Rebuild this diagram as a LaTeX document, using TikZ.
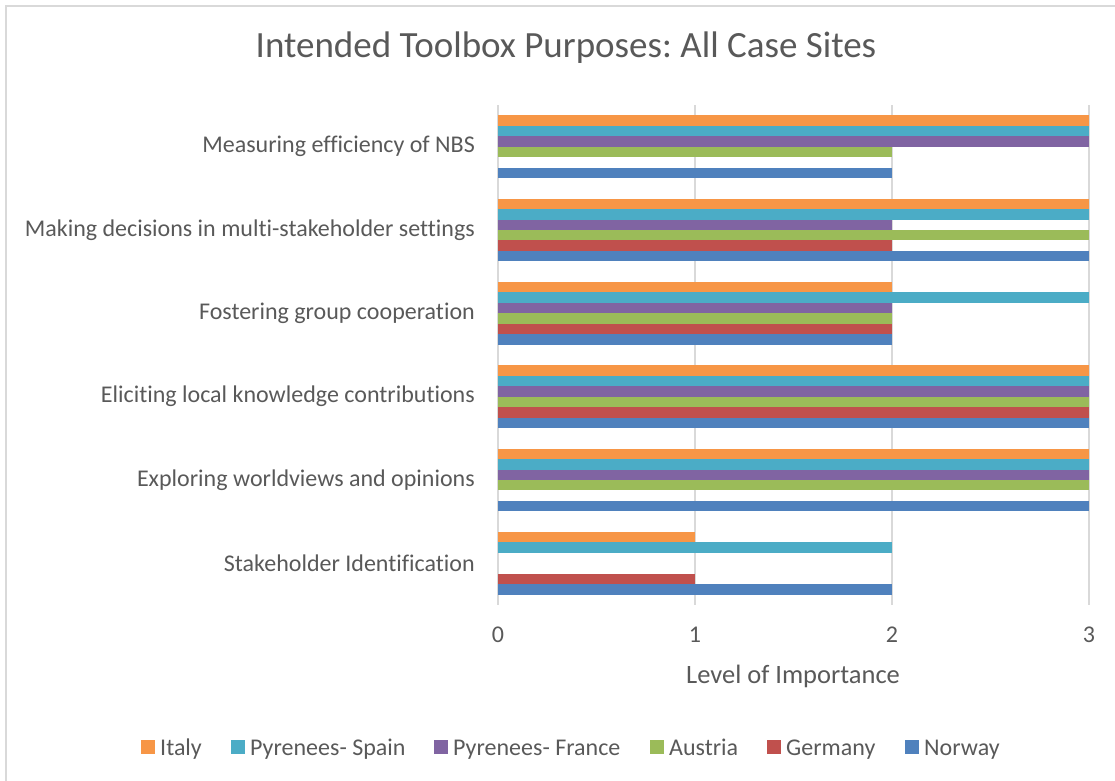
\documentclass[tikz,border=0pt]{standalone}
\usepackage{fontspec}
\setmainfont{Carlito}[Ligatures=NoCommon]
\usepackage{xcolor}
\usetikzlibrary{positioning}
\frenchspacing

\definecolor{italy}{HTML}{F79646}
\definecolor{spain}{HTML}{4BACC6}
\definecolor{france}{HTML}{8064A2}
\definecolor{austria}{HTML}{9BBB59}
\definecolor{germany}{HTML}{C0504D}
\definecolor{norway}{HTML}{4F81BD}
\definecolor{txtgray}{HTML}{595959}
\definecolor{gridgray}{HTML}{D9D9D9}

\begin{document}
\begin{tikzpicture}[x=1pt, y=-1pt,
    every node/.style={text=txtgray, inner sep=0pt, font=\fontsize{24}{28}\selectfont},
    gridline/.style={draw=gridgray, line width=1.4pt},
    catlabel/.style={anchor=east},
    legbox/.style={minimum size=13.5pt, inner sep=0pt},
    legtext/.style={anchor=base west}]
    \useasboundingbox (0,0) rectangle (1115,780);
    % frame
    \draw[gridgray, line width=1.5pt] (6,790) -- (6,6) -- (1125,6);
    % title
    \node (title) at (566,48) {\fontsize{37}{42}\selectfont\frenchspacing Intended Toolbox Purposes: All Case Sites};
    % grid and ticks
    \foreach \k in {0,1,2,3} {
        \coordinate (gtop\k) at (498+197*\k,105);
        \coordinate (gbot\k) at (498+197*\k,605);
        \draw[gridline] (gtop\k) -- (gbot\k);
        \node (tick\k) at (498+197*\k,635) {\k};
    }
    \node (xtitle) at (793,676) {\fontsize{26.5}{30}\selectfont Level of Importance};
    % categories
    \node[catlabel] (cat0) at (475,146.7) {Measuring efficiency of NBS};
    \node[catlabel] (cat1) at (475,230) {Making decisions in multi-stakeholder settings};
    \node[catlabel] (cat2) at (475,313.3) {Fostering group cooperation};
    \node[catlabel] (cat3) at (475,396.7) {Eliciting local knowledge contributions};
    \node[catlabel] (cat4) at (475,480) {Exploring worldviews and opinions};
    \node[catlabel] (cat5) at (475,563.3) {Stakeholder Identification};
    % bars, one series per site
    \foreach \c/\vals [count=\j from 0] in {italy/{3,3,2,3,3,1}, spain/{3,3,3,3,3,2},
        france/{3,2,2,3,3,0}, austria/{2,3,2,3,3,0}, germany/{0,2,2,3,0,1}, norway/{2,3,2,3,3,2}} {
        \foreach \v [count=\i from 0] in \vals {
            \ifnum\v>0
                \fill[\c] (498,115.3+83.33*\i+10.45*\j) rectangle ++(197*\v,10.45);
            \fi
        }
    }
    % legend
    \foreach \c/\name/\x in {italy/Italy/141, spain/Pyrenees- Spain/231, france/Pyrenees- France/434,
        austria/Austria/650, germany/Germany/767, norway/Norway/905} {
        \node[legbox, fill=\c] (box\c) at (\x+7,747) {};
        \node[legtext] (leg\c) at (\x+19,755) {\name};
    }
\end{tikzpicture}
\end{document}
